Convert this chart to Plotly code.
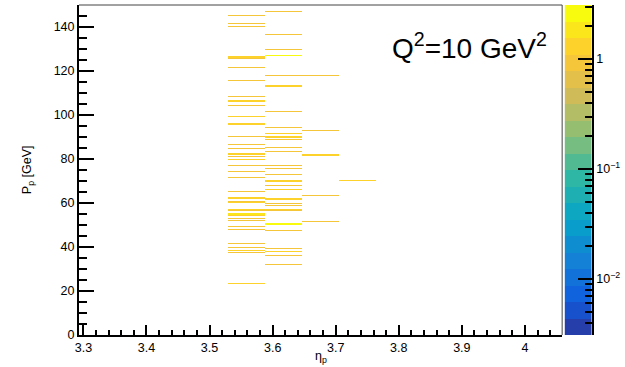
import numpy as np
import plotly.graph_objects as go

# ---- data: momentum entries (GeV) and event weights in each populated eta column ----
ETA_CENTRES = [3.558, 3.617, 3.676, 3.735]

p_col1 = [145.0, 141.5, 140.0, 126.75, 126.25, 125.5, 121.75, 115.75, 108.25, 106.75,
          106.25, 104.25, 99.25, 96.25, 95.75, 90.25, 86.75, 84.75, 82.6, 82.25,
          81.0, 79.75, 77.25, 74.25, 71.75, 65.25, 62.6, 62.25, 60.75, 60.0,
          57.25, 56.75, 55.25, 54.75, 54.25, 52.75, 52.25, 49.25, 47.75, 41.75,
          39.75, 38.25, 37.5, 23.25]
w_col1 = [0.9, 1.0, 0.9, 1.3, 1.3, 1.0, 0.9, 1.0, 0.9, 1.2,
          1.2, 1.0, 1.2, 1.3, 1.3, 0.9, 1.0, 0.9, 1.3, 1.3,
          1.0, 1.3, 0.9, 1.0, 0.9, 0.9, 1.3, 1.3, 1.0, 1.3,
          1.3, 1.0, 1.6, 1.6, 1.3, 1.0, 0.9, 0.9, 1.0, 0.9,
          1.0, 1.2, 1.0, 1.2]

p_col2 = [147.25, 136.5, 129.75, 127.25, 117.75, 113.25, 112.75, 101.75, 94.5, 91.75,
          90.25, 89.75, 88.75, 85.25, 83.25, 77.25, 75.75, 72.75, 70.25, 69.75,
          67.75, 66.25, 62.25, 61.75, 59.75, 58.75, 57.25, 56.5, 50.75, 50.25,
          47.5, 39.5, 37.75, 36.0, 32.0]
w_col2 = [0.9, 1.0, 1.0, 2.6, 0.9, 1.2, 1.2, 0.9, 0.9, 1.2,
          1.3, 1.3, 1.0, 1.0, 1.0, 0.9, 1.0, 1.0, 1.3, 1.3,
          0.9, 1.2, 1.3, 1.3, 1.0, 1.0, 1.2, 1.0, 2.6, 2.6,
          1.0, 1.0, 1.2, 1.0, 0.9]

p_col3 = [117.75, 92.75, 82.0, 81.5, 63.5, 51.75]
w_col3 = [0.9, 1.0, 1.1, 1.1, 0.9, 0.9]

p_col4 = [70.0]
w_col4 = [1.3]

# ---- binning ----
ETA_MIN, ETA_MAX, N_ETA = 3.293, 4.059, 13
P_MIN, P_MAX, N_P = 0.0, 150.0, 330
Z_MAX = 3.1
Z_MIN = Z_MAX / 1000.0
N_LEVELS = 20

eta_edges = np.linspace(ETA_MIN, ETA_MAX, N_ETA + 1)
p_edges = np.linspace(P_MIN, P_MAX, N_P + 1)

content = np.zeros((N_P, N_ETA))
for eta, ps, ws in zip(ETA_CENTRES,
                       [p_col1, p_col2, p_col3, p_col4],
                       [w_col1, w_col2, w_col3, w_col4]):
    h, _, _ = np.histogram2d(np.full(len(ps), eta), ps,
                             bins=[eta_edges, p_edges], weights=ws)
    content += h.T

# contour level of each filled bin on the logarithmic z scale (ROOT COLZ style)
DECADES = np.log10(Z_MAX / Z_MIN)
LEVEL_W = DECADES / N_LEVELS


def level_of(v):
    k = int(np.floor(np.log10(v / Z_MIN) / LEVEL_W))
    return min(max(k, 0), N_LEVELS - 1)


z_lvl = [[float(level_of(v)) if v > 0 else None for v in row] for row in content]

# ---- ROOT kBird palette, 20 discrete contour levels ----
BIRD_STOPS = [0.0, 0.125, 0.25, 0.375, 0.5, 0.625, 0.75, 0.875, 1.0]
BIRD_R = [0.2082, 0.0592, 0.0780, 0.0232, 0.1802, 0.5301, 0.8186, 0.9956, 0.9764]
BIRD_G = [0.1664, 0.3599, 0.5041, 0.6419, 0.7178, 0.7492, 0.7328, 0.7862, 0.9832]
BIRD_B = [0.5293, 0.8684, 0.8385, 0.7914, 0.6425, 0.4662, 0.3499, 0.1968, 0.0539]


def bird(f):
    r = np.interp(f, BIRD_STOPS, BIRD_R)
    g = np.interp(f, BIRD_STOPS, BIRD_G)
    b = np.interp(f, BIRD_STOPS, BIRD_B)
    return "rgb(%d,%d,%d)" % (round(r * 255), round(g * 255), round(b * 255))


level_colors = [bird(min(1.0, (k + 0.99) / N_LEVELS)) for k in range(N_LEVELS)]

# one flat colour per integer level 0..19
colorscale = []
for k, c in enumerate(level_colors):
    lo = max(0.0, (k - 0.5) / (N_LEVELS - 1))
    hi = min(1.0, (k + 0.5) / (N_LEVELS - 1))
    colorscale += [[lo, c], [hi, c]]

level_edges = np.linspace(0.0, DECADES, N_LEVELS + 1)

FONT = "Liberation Sans, Arial, Helvetica, sans-serif"
TICKFONT = dict(family=FONT, size=12.5, color="black")

fig = go.Figure()

fig.add_trace(go.Heatmap(
    x=eta_edges, y=p_edges, z=z_lvl,
    colorscale=colorscale, zmin=0, zmax=N_LEVELS - 1,
    showscale=False, xaxis="x", yaxis="y", hoverongaps=False,
))

# palette strip drawn on its own log axis
fig.add_trace(go.Heatmap(
    x=[0, 1], y=Z_MIN * 10 ** level_edges, z=[[float(k)] for k in range(N_LEVELS)],
    colorscale=colorscale, zmin=0, zmax=N_LEVELS - 1,
    showscale=False, xaxis="x2", yaxis="y2", hoverinfo="skip",
))

minor_log = [m * 10.0 ** e for e in (-3, -2, -1, 0) for m in range(2, 10)]
minor_log = [v for v in minor_log if Z_MIN < v < Z_MAX]

fig.update_layout(
    width=625, height=367,
    margin=dict(l=79, r=31, t=5, b=32),
    paper_bgcolor="white", plot_bgcolor="white",
    showlegend=False,
    xaxis=dict(
        domain=[0, 0.9418], range=[ETA_MIN, ETA_MAX], anchor="y",
        tick0=3.3, dtick=0.1, ticks="inside", ticklen=10, tickwidth=1.5,
        tickcolor="black", tickfont=TICKFONT,
        minor=dict(tick0=3.3, dtick=0.02, ticks="inside", ticklen=5,
                   tickwidth=1.5, tickcolor="black", showgrid=False),
        showline=True, linecolor="black", linewidth=2,
        showgrid=False, zeroline=False,
    ),
    yaxis=dict(
        domain=[0, 1], range=[P_MIN, P_MAX], anchor="x",
        tick0=0, dtick=20, ticks="inside", ticklen=15, tickwidth=1.5,
        tickcolor="black", tickfont=TICKFONT,
        minor=dict(tick0=0, dtick=5, ticks="inside", ticklen=7.5,
                   tickwidth=1.5, tickcolor="black", showgrid=False),
        showline=True, linecolor="black", linewidth=2,
        showgrid=False, zeroline=False,
    ),
    xaxis2=dict(domain=[0.9465, 1], range=[0, 1], anchor="y2", visible=False,
                fixedrange=True),
    yaxis2=dict(
        domain=[0, 1], type="log", range=[np.log10(Z_MIN), np.log10(Z_MAX)],
        anchor="x2", side="right",
        tickmode="array", tickvals=[0.01, 0.1, 1],
        ticktext=["10<sup>\u22122</sup>", "10<sup>\u22121</sup>", "1"],
        ticks="inside", ticklen=14, tickwidth=1.5, tickcolor="black",
        tickfont=TICKFONT,
        minor=dict(tickmode="array", tickvals=minor_log, ticks="inside",
                   ticklen=7, tickwidth=1.5, tickcolor="black", showgrid=False),
        showline=True, linecolor="black", linewidth=1.5,
        showgrid=False, zeroline=False,
    ),
    # thin frame on the top and right of the histogram pad
    shapes=[
        dict(type="line", xref="x domain", yref="y domain", x0=0, x1=1, y0=1, y1=1,
             layer="above", line=dict(color="#444444", width=1)),
        dict(type="line", xref="x domain", yref="y domain", x0=1, x1=1, y0=0, y1=1,
             layer="above", line=dict(color="#444444", width=1)),
    ],
    annotations=[
        dict(text="\u03b7<sub>p</sub>", xref="paper", yref="paper",
             x=0.4716, y=-0.067, xanchor="center", yanchor="middle",
             showarrow=False, font=dict(family=FONT, size=12.5, color="black")),
        dict(text="P<sub>p</sub> [GeV]", xref="paper", yref="paper",
             x=-0.099, y=0.5, xanchor="center", yanchor="middle", textangle=-90,
             showarrow=False, font=dict(family=FONT, size=12.5, color="black")),
        dict(text="Q<sup>2</sup>=10 GeV<sup>2</sup>", xref="paper", yref="paper",
             x=0.6068, y=0.875, xanchor="left", yanchor="middle",
             showarrow=False, font=dict(family=FONT, size=28, color="black")),
    ],
)

fig.write_html("out.html")
